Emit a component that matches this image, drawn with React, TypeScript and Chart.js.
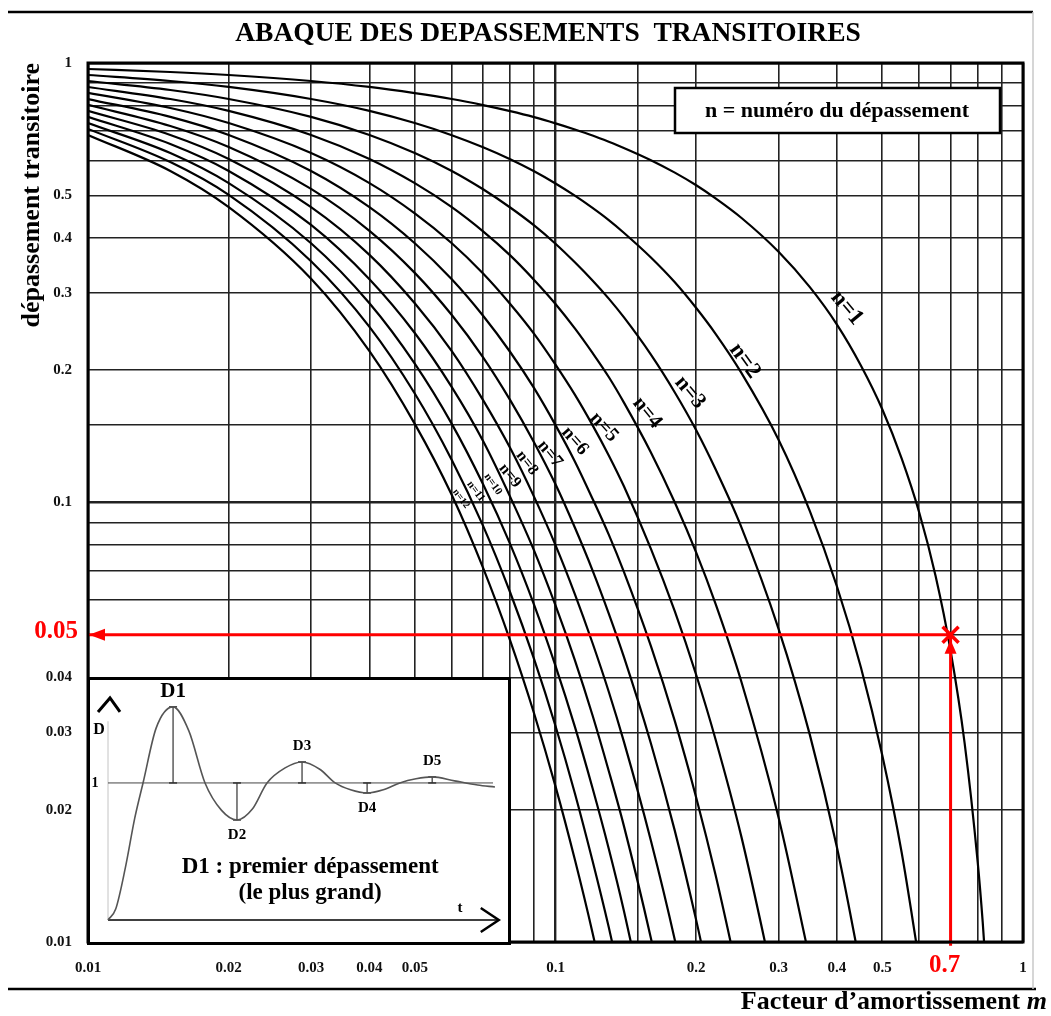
import React, { useEffect, useRef } from 'react';
import { Chart, registerables } from 'chart.js';

Chart.register(...registerables);

const FONT = "'Liberation Serif', 'Times New Roman', serif";

// ---------- main abacus data ----------
const dampingFactors = [
  0.01, 0.015, 0.02, 0.03, 0.04, 0.05, 0.06, 0.07, 0.08, 0.09, 0.1, 0.11, 0.12, 0.13, 0.14, 0.16,
  0.18, 0.2, 0.22, 0.25, 0.3, 0.35, 0.4, 0.45, 0.5, 0.55, 0.6, 0.65, 0.7, 0.75, 0.8, 0.82, 0.85,
];

const overshootN1 = [
  0.969, 0.954, 0.939, 0.91, 0.882, 0.854, 0.828, 0.802, 0.777, 0.753, 0.729, 0.706, 0.684, 0.662,
  0.641, 0.601, 0.563, 0.527, 0.492, 0.444, 0.372, 0.309, 0.254, 0.205, 0.163, 0.126, 0.0948,
  0.0681, 0.046, 0.0284, 0.0152, 0.0111, 0.0063,
];
const overshootN2 = [
  0.939, 0.91, 0.882, 0.828, 0.778, 0.73, 0.685, 0.643, 0.604, 0.567, 0.532, 0.499, 0.468, 0.439,
  0.411, 0.361, 0.317, 0.277, 0.242, 0.197, 0.139, 0.0956, 0.0644, 0.0422, 0.0266, 0.016, 0.009,
];
const overshootN3 = [
  0.91, 0.868, 0.828, 0.754, 0.686, 0.624, 0.568, 0.516, 0.469, 0.427, 0.388, 0.352, 0.32, 0.291,
  0.264, 0.217, 0.178, 0.146, 0.119, 0.0877, 0.0516, 0.0296, 0.0164, 0.0087,
];
const overshootN4 = [
  0.882, 0.828, 0.778, 0.686, 0.605, 0.533, 0.47, 0.414, 0.365, 0.321, 0.283, 0.249, 0.219, 0.193,
  0.169, 0.13, 0.1, 0.0769, 0.0588, 0.039, 0.0192, 0.0091,
];
const overshootN5 = [
  0.855, 0.79, 0.73, 0.624, 0.533, 0.455, 0.389, 0.332, 0.283, 0.242, 0.206, 0.176, 0.15, 0.128,
  0.109, 0.0784, 0.0565, 0.0405, 0.0289, 0.0173, 0.0072,
];
const overshootN6 = [
  0.828, 0.754, 0.686, 0.568, 0.47, 0.389, 0.322, 0.266, 0.22, 0.182, 0.15, 0.124, 0.102, 0.0845,
  0.0696, 0.0471, 0.0318, 0.0213, 0.0142, 0.0077,
];
const overshootN7 = [
  0.803, 0.719, 0.644, 0.517, 0.415, 0.333, 0.267, 0.214, 0.171, 0.137, 0.11, 0.0877, 0.0701,
  0.0559, 0.0446, 0.0283, 0.0179, 0.0112, 0.007,
];
const overshootN8 = [
  0.778, 0.686, 0.605, 0.47, 0.366, 0.284, 0.221, 0.171, 0.133, 0.103, 0.08, 0.0619, 0.0479, 0.0371,
  0.0286, 0.017, 0.0101, 0.0059,
];
const overshootN9 = [
  0.754, 0.654, 0.568, 0.428, 0.322, 0.243, 0.183, 0.138, 0.103, 0.0777, 0.0583, 0.0438, 0.0328,
  0.0245, 0.0184, 0.0102, 0.0057,
];
const overshootN10 = [
  0.73, 0.624, 0.533, 0.389, 0.284, 0.207, 0.151, 0.11, 0.0804, 0.0585, 0.0425, 0.0309, 0.0224,
  0.0163, 0.0118, 0.0061,
];
const overshootN11 = [
  0.708, 0.595, 0.501, 0.354, 0.251, 0.177, 0.125, 0.0885, 0.0624, 0.044, 0.031, 0.0218, 0.0153,
  0.0108, 0.0076,
];
const overshootN12 = [
  0.686, 0.568, 0.47, 0.323, 0.221, 0.151, 0.104, 0.071, 0.0485, 0.0331, 0.0226, 0.0154, 0.0105,
  0.0071,
];

const overshootSeries = [
  overshootN1, overshootN2, overshootN3, overshootN4, overshootN5, overshootN6,
  overshootN7, overshootN8, overshootN9, overshootN10, overshootN11, overshootN12,
];

const curveLabels = ['n=1', 'n=2', 'n=3', 'n=4', 'n=5', 'n=6', 'n=7', 'n=8', 'n=9', 'n=10', 'n=11', 'n=12'];
// where each curve label sits (data coordinates)
const labelM = [0.42, 0.254, 0.194, 0.157, 0.127, 0.11, 0.0973, 0.0869, 0.0799, 0.0735, 0.0676, 0.0628];
const labelD = [0.277, 0.21, 0.178, 0.16, 0.1485, 0.138, 0.129, 0.123, 0.115, 0.11, 0.106, 0.102];
const labelAngle = [50, 54, 50, 51, 48, 49, 51, 52, 51, 55, 53, 53];
const labelSize = [23, 23, 22, 21, 20, 19, 18, 16, 16, 11, 11, 10];

const yTickValues = [1, 0.5, 0.4, 0.3, 0.2, 0.1, 0.04, 0.03, 0.02, 0.01];
const yTickTexts = ['1', '0.5', '0.4', '0.3', '0.2', '0.1', '0.04', '0.03', '0.02', '0.01'];
const xTickValues = [0.01, 0.02, 0.03, 0.04, 0.05, 0.1, 0.2, 0.3, 0.4, 0.5, 1];
const xTickTexts = ['0.01', '0.02', '0.03', '0.04', '0.05', '0.1', '0.2', '0.3', '0.4', '0.5', '1'];

// worked example: m = 0.7 -> first overshoot 0.05
const readingM = 0.7;
const readingD = 0.05;
const readingMText = '0.7';
const readingDText = '0.05';

// ---------- inset (step response sketch) ----------
const responseT = [
  0, 0.2, 0.45, 0.7, 0.91, 1.25, 1.69, 2.1, 2.52, 2.95, 3.35, 3.75, 4.13, 4.6, 5.04, 5.5, 5.9, 6.3,
  6.73, 7.15, 7.58, 8.0, 8.42, 9.0, 9.6, 10.05,
];
const responseD = [
  0, 0.08, 0.38, 0.75, 1.0, 1.4, 1.555, 1.38, 1.0, 0.8, 0.73, 0.81, 1.0, 1.11, 1.153, 1.1, 1.0, 0.95,
  0.927, 0.95, 1.0, 1.03, 1.044, 1.015, 0.985, 0.97,
];
const extremaT = [1.69, 3.35, 5.04, 6.73, 8.42];
const extremaD = [1.555, 0.73, 1.153, 0.927, 1.044];
const extremaLabels = ['D1', 'D2', 'D3', 'D4', 'D5'];
const insetAxisEnd = 10.15;

function labelFor(value: number, values: number[], texts: string[]) {
  const i = values.findIndex((v) => Math.abs(v - value) / v < 1e-6);
  return i >= 0 ? texts[i] : '';
}

function isDecade(v: number) {
  const l = Math.log10(v);
  return Math.abs(l - Math.round(l)) < 1e-6;
}

const mainOverlay = {
  id: 'mainOverlay',
  afterDraw(chart: any) {
    const { ctx, chartArea: a, scales } = chart;
    const x = scales.x;
    const y = scales.y;
    ctx.save();

    // frame
    ctx.strokeStyle = '#000';
    ctx.lineWidth = 3;
    ctx.strokeRect(a.left, a.top, a.right - a.left, a.bottom - a.top);

    // page rules
    ctx.lineWidth = 2.5;
    ctx.beginPath();
    ctx.moveTo(8, 12);
    ctx.lineTo(1033, 12);
    ctx.moveTo(8, 989);
    ctx.lineTo(1036, 989);
    ctx.stroke();
    ctx.strokeStyle = '#c8c8c8';
    ctx.lineWidth = 1.5;
    ctx.beginPath();
    ctx.moveTo(1033, 12);
    ctx.lineTo(1033, 989);
    ctx.stroke();

    // title
    ctx.fillStyle = '#000';
    ctx.textAlign = 'center';
    ctx.textBaseline = 'middle';
    ctx.font = `bold 27.5px ${FONT}`;
    ctx.fillText('ABAQUE DES DEPASSEMENTS  TRANSITOIRES', 548, 34);

    // legend box
    ctx.fillStyle = '#fff';
    ctx.fillRect(675, 88, 325, 45);
    ctx.strokeStyle = '#000';
    ctx.lineWidth = 2.5;
    ctx.strokeRect(675, 88, 325, 45);
    ctx.fillStyle = '#000';
    ctx.font = `bold 22px ${FONT}`;
    ctx.fillText('n = numéro du dépassement', 837, 111);

    // curve labels
    curveLabels.forEach((t, i) => {
      const px = x.getPixelForValue(labelM[i]);
      const py = y.getPixelForValue(labelD[i]);
      ctx.save();
      ctx.translate(px, py);
      ctx.rotate((labelAngle[i] * Math.PI) / 180);
      ctx.font = `bold ${labelSize[i]}px ${FONT}`;
      ctx.fillStyle = '#000';
      ctx.textAlign = 'center';
      ctx.textBaseline = 'middle';
      ctx.fillText(t, 0, 0);
      ctx.restore();
    });

    // red reading
    const rx = x.getPixelForValue(readingM);
    const ry = y.getPixelForValue(readingD);
    ctx.fillStyle = '#ff0000';
    ctx.strokeStyle = '#ff0000';
    // up arrow head
    ctx.beginPath();
    ctx.moveTo(rx, ry + 5);
    ctx.lineTo(rx - 6, ry + 19);
    ctx.lineTo(rx + 6, ry + 19);
    ctx.closePath();
    ctx.fill();
    // left arrow head
    ctx.beginPath();
    ctx.moveTo(a.left + 1, ry);
    ctx.lineTo(a.left + 17, ry - 6);
    ctx.lineTo(a.left + 17, ry + 6);
    ctx.closePath();
    ctx.fill();
    // cross
    ctx.lineWidth = 3.5;
    ctx.beginPath();
    ctx.moveTo(rx - 8, ry - 8);
    ctx.lineTo(rx + 8, ry + 8);
    ctx.moveTo(rx - 8, ry + 8);
    ctx.lineTo(rx + 8, ry - 8);
    ctx.stroke();
    // red labels
    ctx.font = `bold 25px ${FONT}`;
    ctx.textAlign = 'right';
    ctx.textBaseline = 'middle';
    ctx.fillText(readingDText, 78, ry - 3);
    ctx.textAlign = 'center';
    ctx.fillText(readingMText, rx - 6, 966);

    // x axis title
    ctx.fillStyle = '#000';
    ctx.textBaseline = 'middle';
    ctx.textAlign = 'left';
    const part1 = 'Facteur d’amortissement ';
    ctx.font = `bold 26px ${FONT}`;
    const w1 = ctx.measureText(part1).width;
    ctx.font = `italic bold 26px ${FONT}`;
    const w2 = ctx.measureText('m').width;
    const startX = 1047 - w1 - w2;
    ctx.font = `bold 26px ${FONT}`;
    ctx.fillText(part1, startX, 1002);
    ctx.font = `italic bold 26px ${FONT}`;
    ctx.fillText('m', startX + w1, 1002);

    ctx.restore();
  },
};

const insetOverlay = {
  id: 'insetOverlay',
  afterDraw(chart: any) {
    const { ctx, scales } = chart;
    const x = scales.x;
    const y = scales.y;
    const x0 = x.getPixelForValue(0);
    const y0 = y.getPixelForValue(0);
    const y1 = y.getPixelForValue(1);
    const xEnd = x.getPixelForValue(insetAxisEnd);
    ctx.save();
    ctx.strokeStyle = '#000';
    ctx.fillStyle = '#000';
    ctx.lineJoin = 'miter';
    // time arrow
    ctx.lineWidth = 2.5;
    ctx.beginPath();
    ctx.moveTo(xEnd - 18, y0 - 12);
    ctx.lineTo(xEnd, y0);
    ctx.lineTo(xEnd - 18, y0 + 12);
    ctx.stroke();
    // D arrow
    const apexY = y.getPixelForValue(1.62);
    ctx.lineWidth = 3;
    ctx.beginPath();
    ctx.moveTo(x0 - 10, apexY + 14);
    ctx.lineTo(x0 + 2, apexY);
    ctx.lineTo(x0 + 12, apexY + 14);
    ctx.stroke();

    ctx.textAlign = 'center';
    ctx.textBaseline = 'middle';
    ctx.font = `bold 16px ${FONT}`;
    ctx.fillText('D', x0 - 9, y.getPixelForValue(1.39));
    ctx.font = `bold 14px ${FONT}`;
    ctx.fillText('1', x0 - 13, y1);
    ctx.font = `bold 15px ${FONT}`;
    ctx.fillText('t', x.getPixelForValue(9.14), y.getPixelForValue(0.09));

    extremaLabels.forEach((t, i) => {
      const px = x.getPixelForValue(extremaT[i]);
      const py = y.getPixelForValue(extremaD[i]);
      const above = extremaD[i] > 1;
      if (i === 0) {
        ctx.font = `bold 21px ${FONT}`;
        ctx.fillText(t, px, py - 15);
      } else {
        ctx.font = `bold 15px ${FONT}`;
        ctx.fillText(t, px, above ? py - 16 : py + 15);
      }
    });

    ctx.font = `bold 23px ${FONT}`;
    ctx.fillText('D1 : premier dépassement', x.getPixelForValue(5.25), y.getPixelForValue(0.387));
    ctx.fillText('(le plus grand)', x.getPixelForValue(5.25), y.getPixelForValue(0.197));
    ctx.restore();
  },
};

export default function App() {
  const mainRef = useRef<HTMLCanvasElement>(null);
  const insetRef = useRef<HTMLCanvasElement>(null);

  useEffect(() => {
    document.documentElement.style.overflow = 'hidden';

    const curveSets: any[] = overshootSeries.map((ys, i) => ({
      label: curveLabels[i],
      data: ys.map((v, j) => ({ x: dampingFactors[j], y: v })),
      borderColor: '#000',
      borderWidth: 2.2,
      pointRadius: 0,
      cubicInterpolationMode: 'monotone',
      fill: false,
    }));
    const redSets: any[] = [
      {
        label: 'lecture m',
        data: [
          { x: readingM, y: 0.0098 },
          { x: readingM, y: readingD },
        ],
        borderColor: '#ff0000',
        borderWidth: 3,
        pointRadius: 0,
        clip: 6,
      },
      {
        label: 'lecture D',
        data: [
          { x: readingM, y: readingD },
          { x: 0.01, y: readingD },
        ],
        borderColor: '#ff0000',
        borderWidth: 3,
        pointRadius: 0,
        clip: 6,
      },
    ];

    const tickFont = { family: FONT, size: 15, weight: 'bold' as const };
    const gridOpts = {
      color: '#222',
      drawTicks: false,
      lineWidth: (c: any) => (c.tick && isDecade(c.tick.value) ? 2.4 : 1.6),
    };

    const main = new Chart(mainRef.current as HTMLCanvasElement, {
      type: 'line',
      data: { datasets: [...redSets, ...curveSets] },
      options: {
        responsive: false,
        animation: false,
        events: [],
        layout: { padding: { top: 63, right: 28, left: 0, bottom: 0 } },
        elements: { line: { capBezierPoints: false } },
        plugins: { legend: { display: false }, tooltip: { enabled: false }, title: { display: false } },
        scales: {
          x: {
            type: 'logarithmic',
            min: 0.01,
            max: 1,
            position: 'bottom',
            grid: gridOpts,
            border: { display: false },
            afterFit: (s: any) => {
              s.height = 74;
            },
            ticks: {
              autoSkip: false,
              maxRotation: 0,
              padding: 17,
              color: '#111',
              font: tickFont,
              callback: (v: any) => labelFor(Number(v), xTickValues, xTickTexts),
            },
          },
          y: {
            type: 'logarithmic',
            min: 0.01,
            max: 1,
            position: 'left',
            grid: gridOpts,
            border: { display: false },
            afterFit: (s: any) => {
              s.width = 88;
            },
            title: {
              display: true,
              text: 'dépassement transitoire',
              align: 'end',
              color: '#000',
              font: { family: FONT, size: 26, weight: 'bold' },
              padding: { top: 17, bottom: 0 },
            },
            ticks: {
              autoSkip: false,
              padding: 16,
              color: '#111',
              font: tickFont,
              callback: (v: any) => labelFor(Number(v), yTickValues, yTickTexts),
            },
          },
        },
      } as any,
      plugins: [mainOverlay],
    });

    const markerData: any[] = [];
    extremaT.forEach((t, i) => {
      markerData.push({ x: t, y: 1 }, { x: t, y: extremaD[i] }, { x: t, y: null });
    });

    const inset = new Chart(insetRef.current as HTMLCanvasElement, {
      type: 'line',
      data: {
        datasets: [
          {
            label: 'réponse',
            data: responseT.map((t, i) => ({ x: t, y: responseD[i] })),
            borderColor: '#555',
            borderWidth: 1.6,
            pointRadius: 0,
            cubicInterpolationMode: 'monotone',
            clip: false,
          },
          {
            label: 'dépassements',
            data: markerData,
            borderColor: '#333',
            borderWidth: 1.2,
            pointStyle: 'line',
            pointRadius: 4,
            pointBorderColor: '#333',
            pointBorderWidth: 1.5,
            spanGaps: false,
            clip: false,
          },
          {
            label: 'valeur finale',
            data: [
              { x: 0, y: 1 },
              { x: 10, y: 1 },
            ],
            borderColor: '#444',
            borderWidth: 1,
            pointRadius: 0,
            clip: false,
          },
          {
            label: 'axe t',
            data: [
              { x: 0, y: 0 },
              { x: insetAxisEnd, y: 0 },
            ],
            borderColor: '#000',
            borderWidth: 1.6,
            pointRadius: 0,
            clip: false,
          },
          {
            label: 'axe D',
            data: [
              { x: 0, y: 0 },
              { x: 0, y: 1.45 },
            ],
            borderColor: '#c4c4c4',
            borderWidth: 1,
            pointRadius: 0,
            clip: false,
          },
        ],
      },
      options: {
        responsive: false,
        animation: false,
        events: [],
        layout: { padding: { top: 7, right: 15, left: 18, bottom: 22 } },
        plugins: { legend: { display: false }, tooltip: { enabled: false } },
        scales: {
          x: { type: 'linear', min: 0, max: 10, display: false },
          y: { type: 'linear', min: 0, max: 1.7, display: false },
        },
      } as any,
      plugins: [insetOverlay],
    });

    return () => {
      main.destroy();
      inset.destroy();
    };
  }, []);

  return (
    <div style={{ position: 'absolute', left: 0, top: 0, width: 1051, height: 1016, background: '#fff' }}>
      <canvas ref={mainRef} width={1051} height={1016} style={{ position: 'absolute', left: 0, top: 0 }} />
      <div
        style={{
          position: 'absolute',
          left: 87,
          top: 677,
          width: 424,
          height: 268,
          boxSizing: 'border-box',
          border: '3px solid #000',
          background: '#fff',
        }}
      >
        <canvas ref={insetRef} width={418} height={262} style={{ display: 'block' }} />
      </div>
    </div>
  );
}
